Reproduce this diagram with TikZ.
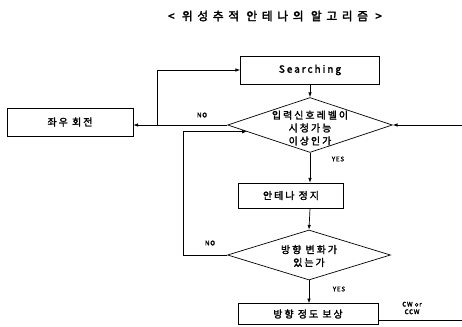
\documentclass[tikz,border=0pt]{standalone}
\usepackage{fontspec}
\newfontfamily\kr[LetterSpace=20,FakeBold=2]{Noto Sans CJK KR}
\newfontfamily\krlbl[LetterSpace=10,FakeBold=1.5]{Noto Sans CJK KR}
\newfontfamily\krtitle[LetterSpace=40,FakeBold=2.5]{Noto Sans CJK KR}
\usetikzlibrary{arrows.meta, shapes.geometric}

\tikzset{
  box/.style={draw, rectangle, line width=0.6pt, inner sep=0pt,
    font=\kr\fontsize{8.5}{10}\selectfont},
  dia/.style={draw, diamond, line width=0.6pt, inner sep=0pt},
  diatext/.style={align=center, inner sep=0pt,
    font=\kr\fontsize{8.5}{11}\selectfont},
  lbl/.style={inner sep=0pt, align=center,
    font=\krlbl\fontsize{5.5}{6.5}\selectfont},
  arr/.style={-{Latex[length=4pt,width=3pt]}},
  conn/.style={line width=0.6pt}
}

\begin{document}
\begin{tikzpicture}[x=0.03cm, y=-0.03cm, conn]
  \useasboundingbox (0,0) rectangle (462,327);

  % title
  \node[inner sep=0pt, font=\krtitle\fontsize{10}{12}\selectfont] (title) at (275,16)
    {< 위성추적 안테나의 알고리즘 >};

  % boxes and decisions
  \node[box, minimum width=4.17cm, minimum height=0.84cm] (search) at (310,70) {Searching};
  \node[dia, minimum width=4.95cm, minimum height=1.65cm] (d1) at (310,125) {};
  \node[diatext] (d1t) at (310,128) {입력신호레벨이\\시청가능\\이상인가};
  \node[box, minimum width=3.78cm, minimum height=0.84cm] (turn) at (70,122) {좌우 회전};
  \node[box, minimum width=3.15cm, minimum height=0.75cm] (stop) at (291,195.5) {안테나 정지};
  \node[dia, minimum width=4.89cm, minimum height=1.5cm] (d2) at (309,255) {};
  \node[diatext] (d2t) at (309,256) {방향 변화가\\있는가};
  \node[box, minimum width=4.2cm, minimum height=0.62cm] (comp) at (308,314) {방향 정도 보상};

  % labels
  \node[lbl] (no1) at (202,115) {NO};
  \node[lbl] (no2) at (210,243) {NO};
  \node[lbl] (yes1) at (338,159) {YES};
  \node[lbl] (yes2) at (339,289) {YES};
  \node[lbl] (cw) at (412,308) {CW or\\CCW};

  % free ends
  \coordinate (rin) at (462,125);
  \coordinate (jn) at (157,125);
  \coordinate (lp) at (183,255);
  \coordinate (cwout) at (462,320);

  % connectors
  \draw[arr] (search) -- (d1.north);
  \draw[arr] (rin) -- (d1.east);
  \draw (d1.west) -- (jn);
  \draw[arr] (jn) -- (jn -| turn.east);
  \draw[arr] (jn) |- (search.west);
  \draw[arr] (d2.west) -- (lp) |- (d1.186);
  \draw[arr] (d1.south) -- (d1.south |- stop.north);
  \draw[arr] (d1.south |- stop.south) -- (d2.north);
  \draw[arr] (d2.south) -- (d2.south |- comp.north);
  \draw (cwout -| comp.east) -- (cwout);
\end{tikzpicture}
\end{document}
